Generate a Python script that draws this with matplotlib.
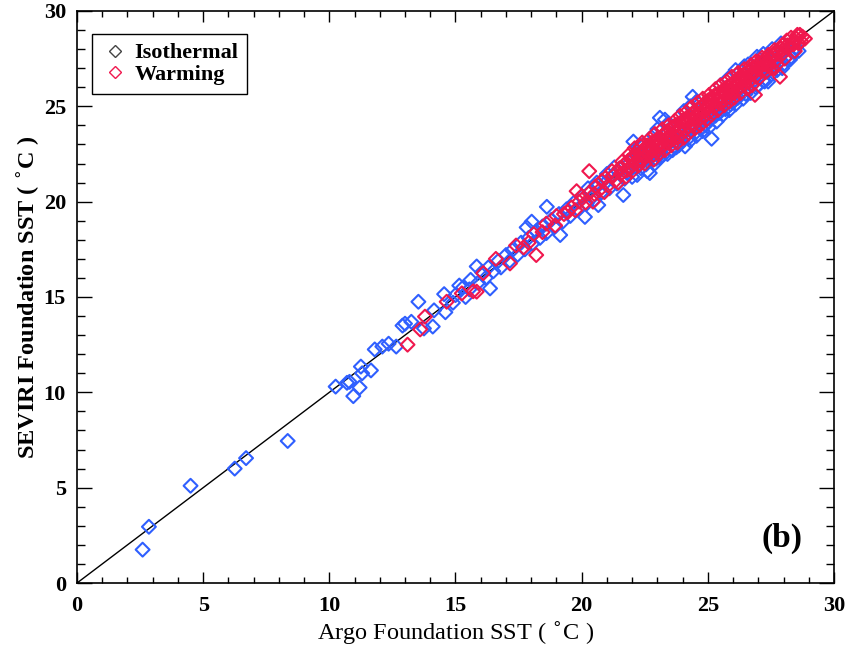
import numpy as np
import matplotlib
matplotlib.use('Agg')
import matplotlib.pyplot as plt
from matplotlib.lines import Line2D

# Isothermal points (Argo foundation SST, SEVIRI foundation SST)
iso_x = [2.6, 2.85, 4.5, 6.25, 6.7, 8.35,
         10.25, 10.7, 10.8, 10.95, 11.2, 11.25, 11.3, 11.65, 11.8, 12.1, 12.35, 12.65,
         12.9, 13.0, 13.25, 13.53, 13.75, 14.1, 14.15, 14.55, 14.6, 14.9, 15.0, 15.15,
         15.3, 15.4, 15.55, 15.6, 15.84, 15.9, 16.05, 16.2, 16.3, 16.37, 16.5, 16.7,
         16.8, 17.0, 17.15, 17.25, 17.45, 17.6, 17.75, 17.82, 17.9, 18.02, 18.05, 18.2,
         18.35, 18.45, 18.6, 18.62, 18.8, 18.95, 19.1, 19.15, 19.25, 19.4, 19.55, 19.7,
         19.85, 20.0, 20.13, 20.2, 20.35, 20.5, 20.66, 20.65, 20.8, 20.95, 21.1, 21.25,
         21.4, 21.55, 21.65, 21.7, 21.8, 21.9, 22.0, 22.05, 22.15, 22.25, 22.35, 22.5,
         22.6, 22.7, 22.75, 22.9, 23.0, 23.1, 23.25, 23.3, 23.4, 23.5, 23.6, 23.7,
         23.85, 23.95, 24.1, 24.2, 24.3, 24.45, 24.55, 24.7, 24.8, 24.95, 25.05, 25.15,
         25.25, 25.35, 25.5, 25.6, 25.75, 25.85, 26.0, 26.1, 26.25, 26.3, 26.4, 26.55,
         26.7, 26.8, 26.95, 27.0, 27.1, 27.25, 27.39, 27.45, 27.55, 27.65, 27.8, 27.95,
         28.1, 28.26, 28.4, 28.5, 28.6, 23.1, 24.4, 26.1,
         22.2, 22.55, 22.95, 23.2, 23.55, 23.75, 24.0, 24.25, 24.5, 24.75, 24.9, 25.1,
         25.3, 25.45, 25.7, 25.9, 26.05, 26.2, 26.5, 26.65, 26.9, 27.2, 27.5, 27.75,
         28.0, 28.3, 22.45, 23.0, 24.3, 24.55, 25.5, 26.6, 27.2, 27.9, 21.3, 21.0,
         20.6, 20.25, 22.3, 22.85, 23.45, 24.05, 25.8, 26.45]
iso_y = [1.75, 2.95, 5.1, 6.0, 6.55, 7.45,
         10.3, 10.5, 10.55, 9.8, 10.25, 11.35, 11.0, 11.15, 12.25, 12.4, 12.55, 12.4,
         13.5, 13.6, 13.7, 14.75, 13.35, 13.45, 14.3, 15.15, 14.2, 14.7, 15.1, 15.6,
         15.5, 15.0, 15.4, 15.9, 16.6, 15.75, 16.3, 16.0, 16.55, 15.45, 16.35, 16.9,
         16.55, 17.2, 16.9, 17.45, 17.2, 17.85, 17.5, 18.65, 18.1, 18.95, 17.8, 18.45,
         18.1, 18.7, 18.35, 19.73, 19.05, 18.7, 19.35, 18.25, 18.95, 19.6, 19.25, 19.95,
         19.6, 20.25, 19.2, 19.9, 20.55, 20.1, 19.82, 20.85, 20.5, 21.0, 20.7, 21.4,
         20.95, 21.7, 20.35, 21.2, 21.5, 22.05, 21.3, 23.15, 21.85, 22.5, 21.75, 22.2,
         21.6, 21.5, 22.45, 22.0, 22.6, 22.3, 22.9, 24.3, 22.5, 23.1, 22.7, 23.35,
         22.95, 23.5, 22.9, 23.6, 23.2, 23.9, 23.45, 24.1, 23.7, 24.3, 23.9, 23.3,
         24.6, 24.2, 24.9, 24.55, 25.15, 24.8, 25.4, 25.1, 25.65, 26.85, 25.4, 25.95,
         25.7, 26.3, 27.6, 26.1, 26.6, 26.3, 26.3, 26.9, 28.0, 27.1, 27.3, 27.0,
         27.6, 27.45, 27.85, 28.1, 27.9, 24.4, 25.5, 26.9,
         21.4, 21.95, 22.25, 22.4, 22.75, 22.85, 23.2, 23.35, 23.6, 23.85, 24.0, 24.3,
         24.5, 24.65, 24.85, 25.1, 25.3, 25.45, 25.65, 25.95, 26.0, 26.35, 26.65, 26.9,
         27.2, 27.6, 23.0, 23.8, 25.0, 25.25, 26.1, 27.2, 27.75, 28.3, 21.8, 21.45,
         21.0, 20.7, 22.95, 23.5, 24.1, 24.75, 26.45, 27.1]

# Warming points
warm_x = [13.1, 13.6, 13.79, 14.65, 15.25, 15.7, 15.84, 16.1, 16.6, 17.16, 17.4, 17.7,
          18.1, 18.2, 18.6, 18.95, 19.3, 19.6, 19.75, 19.8, 20.0, 20.15, 20.3, 20.3,
          20.5, 20.55, 20.7, 20.95, 21.05, 21.25, 21.35, 21.5, 21.55, 21.7, 21.85, 21.95,
          22.05, 22.15, 22.2, 22.3, 22.35, 22.45, 22.55, 22.6, 22.65, 22.75, 22.8, 22.85,
          22.95, 23.0, 23.05, 23.15, 23.2, 23.25, 23.35, 23.4, 23.45, 23.55, 23.6, 23.65,
          23.75, 23.8, 23.85, 23.95, 24.0, 24.05, 24.15, 24.2, 24.25, 24.35, 24.4, 24.45,
          24.55, 24.6, 24.65, 24.75, 24.8, 24.85, 24.95, 25.0, 25.05, 25.15, 25.2, 25.25,
          25.35, 25.4, 25.45, 25.55, 25.6, 25.65, 25.75, 25.8, 25.85, 25.95, 26.0, 26.05,
          26.15, 26.2, 26.25, 26.35, 26.4, 26.45, 26.55, 26.6, 26.65, 26.75, 26.8, 26.87,
          26.9, 27.0, 27.05, 27.15, 27.25, 27.3, 27.4, 27.5, 27.6, 27.7, 27.8, 27.86,
          27.9, 28.0, 28.13, 28.2, 28.35, 28.5, 28.6, 28.75, 28.85,
          22.4, 23.3, 24.1, 24.9, 25.7, 26.4, 23.7, 25.1,
          21.6, 21.75, 21.9, 22.0, 22.1, 22.25, 22.4, 22.5, 22.7, 22.85, 22.9, 23.05,
          23.2, 23.3, 23.45, 23.55, 23.7, 23.8, 23.9, 24.05, 24.15, 24.25, 24.35, 24.5,
          24.6, 24.7, 24.8, 24.95, 25.05, 25.15, 25.3, 25.4, 25.5, 25.65, 25.75, 25.85,
          25.95, 26.05, 26.2, 26.3, 26.45, 26.55, 26.7, 26.75, 26.9, 27.05, 27.15, 27.3,
          27.4, 27.55, 27.65, 27.75, 27.95, 28.05, 28.3, 28.45, 28.65,
          23.0, 23.5, 24.0, 24.5, 25.0, 25.5, 26.0, 26.5, 27.0, 22.55, 23.6, 24.7,
          25.8, 26.3, 27.35, 21.2, 20.8, 20.45, 19.9, 19.45, 19.0, 18.45, 17.9, 20.9,
          21.45,
          21.65, 21.8, 22.0, 22.2, 22.35, 22.6, 22.75, 22.95, 23.1, 23.3, 23.5, 23.65,
          23.85, 24.05, 24.2, 24.4, 24.55, 24.75, 24.9, 25.1, 25.25, 25.45, 25.6, 25.8,
          25.95, 26.1, 26.3, 26.5, 26.65, 26.85, 27.0, 27.2, 27.4, 27.6, 27.75, 27.95,
          28.15, 28.4, 28.55, 28.7]
warm_y = [12.5, 13.3, 13.97, 14.75, 15.19, 15.3, 15.28, 16.25, 17.0, 16.76, 17.7, 17.6,
          18.3, 17.2, 18.85, 18.75, 19.35, 19.7, 19.55, 20.55, 20.3, 19.95, 20.45, 21.6,
          20.4, 20.8, 20.6, 21.25, 20.85, 21.35, 21.1, 21.75, 21.45, 21.6, 22.15, 21.8,
          22.4, 22.0, 22.65, 22.2, 22.9, 22.5, 22.35, 22.95, 22.55, 22.8, 23.1, 22.45,
          22.9, 23.3, 22.75, 23.05, 23.45, 22.95, 23.3, 23.7, 23.1, 23.45, 23.85, 23.3,
          23.6, 24.05, 23.4, 23.85, 24.25, 23.7, 24.1, 24.45, 23.95, 24.3, 24.65, 24.05,
          24.5, 24.85, 24.3, 24.7, 25.05, 24.45, 24.9, 25.3, 24.7, 25.05, 25.45, 24.95,
          25.3, 25.65, 25.15, 25.5, 25.85, 25.3, 25.7, 26.05, 25.5, 25.9, 26.25, 25.7,
          26.1, 26.45, 25.95, 26.3, 26.65, 26.15, 26.5, 26.85, 26.3, 26.7, 27.05, 25.6,
          26.55, 26.95, 27.3, 26.85, 27.2, 27.5, 27.1, 27.45, 27.75, 27.4, 27.75, 26.55,
          28.05, 27.8, 28.45, 28.1, 28.35, 28.55, 28.3, 28.65, 28.55,
          22.6, 23.6, 24.3, 25.2, 25.95, 26.5, 24.0, 25.4,
          22.1, 21.3, 22.5, 21.6, 22.8, 21.9, 23.1, 22.0, 23.3, 22.2, 23.55, 22.5,
          23.8, 22.7, 24.0, 22.95, 24.25, 23.1, 24.5, 23.35, 24.7, 23.6, 24.95, 23.85,
          25.2, 24.0, 25.4, 24.3, 25.6, 24.55, 25.9, 24.8, 26.1, 25.05, 26.3, 25.25,
          26.55, 25.45, 26.75, 25.7, 26.95, 25.95, 27.15, 26.1, 27.35, 26.5, 27.55, 26.8,
          27.7, 27.0, 27.95, 27.2, 28.2, 27.5, 28.6, 27.9, 28.75,
          23.0, 23.5, 24.0, 24.5, 25.0, 25.5, 26.0, 26.5, 27.0, 22.7, 23.9, 24.6,
          25.8, 26.6, 27.35, 21.6, 21.1, 20.0, 20.0, 19.45, 19.25, 18.4, 17.85, 20.5,
          21.0,
          21.9, 21.65, 22.25, 22.45, 22.15, 22.85, 22.6, 23.15, 23.0, 23.55, 23.3, 23.9,
          23.7, 24.25, 24.3, 24.6, 24.4, 24.95, 24.75, 25.25, 25.55, 25.35, 25.7, 26.0,
          25.75, 26.3, 26.45, 26.35, 26.9, 26.75, 27.2, 27.35, 27.25, 27.65, 27.9, 27.95,
          28.2, 28.25, 28.75, 28.4]

iso_color = '#2F5FFF'
warm_color = '#F0184E'

plt.rcParams['font.family'] = ['Liberation Serif', 'DejaVu Serif']

fig = plt.figure(figsize=(8.49, 6.46), dpi=100)
ax = fig.add_axes([0.0907, 0.0975, 0.8916, 0.8855])

ax.plot([0, 30], [0, 30], color='black', lw=1.0, zorder=1)
ax.scatter(iso_x, iso_y, marker='D', s=50, facecolors='none',
           edgecolors=iso_color, linewidths=1.5, zorder=2)
ax.scatter(warm_x, warm_y, marker='D', s=50, facecolors='none',
           edgecolors=warm_color, linewidths=1.5, zorder=3)

ax.set_xlim(0, 30)
ax.set_ylim(0, 30)
ax.set_xticks(np.arange(0, 31, 5))
ax.set_yticks(np.arange(0, 31, 5))
ax.set_xticks(np.arange(0, 31, 1), minor=True)
ax.set_yticks(np.arange(0, 31, 1), minor=True)
ax.tick_params(which='both', direction='in', top=True, right=True, width=1.0,
               labelsize=16)
ax.tick_params(axis='x', which='major', length=8, pad=9)
ax.tick_params(axis='x', which='minor', length=4)
ax.tick_params(axis='y', which='major', length=11, pad=8)
ax.tick_params(axis='y', which='minor', length=6)
for lab in ax.get_xticklabels() + ax.get_yticklabels():
    lab.set_fontweight('bold')
for sp in ax.spines.values():
    sp.set_linewidth(1.2)

ax.set_xlabel('Argo Foundation SST ( $^{\\circ}$C )', fontsize=17.5, labelpad=3)
ax.set_ylabel('SEVIRI Foundation SST ( $^{\\circ}$C )', fontsize=17.5,
              fontweight='bold', labelpad=1)

handles = [Line2D([], [], ls='none', marker='D', ms=6, mfc='none', mew=1.0,
                  mec='#444444', label='Isothermal'),
           Line2D([], [], ls='none', marker='D', ms=6, mfc='none', mew=1.0,
                  mec=warm_color, label='Warming')]
leg = ax.legend(handles=handles, loc='upper left', bbox_to_anchor=(0.0198, 0.96),
                borderaxespad=0, fancybox=False, framealpha=1, edgecolor='black',
                prop={'size': 16, 'weight': 'bold'}, handletextpad=0.2,
                handlelength=1.3, borderpad=0.4, labelspacing=0.05)
leg.get_frame().set_linewidth(1.0)

ax.text(27.94, 2.36, '(b)', fontsize=24, fontweight='bold', ha='center', va='center')

fig.savefig('out.png', dpi=100)
